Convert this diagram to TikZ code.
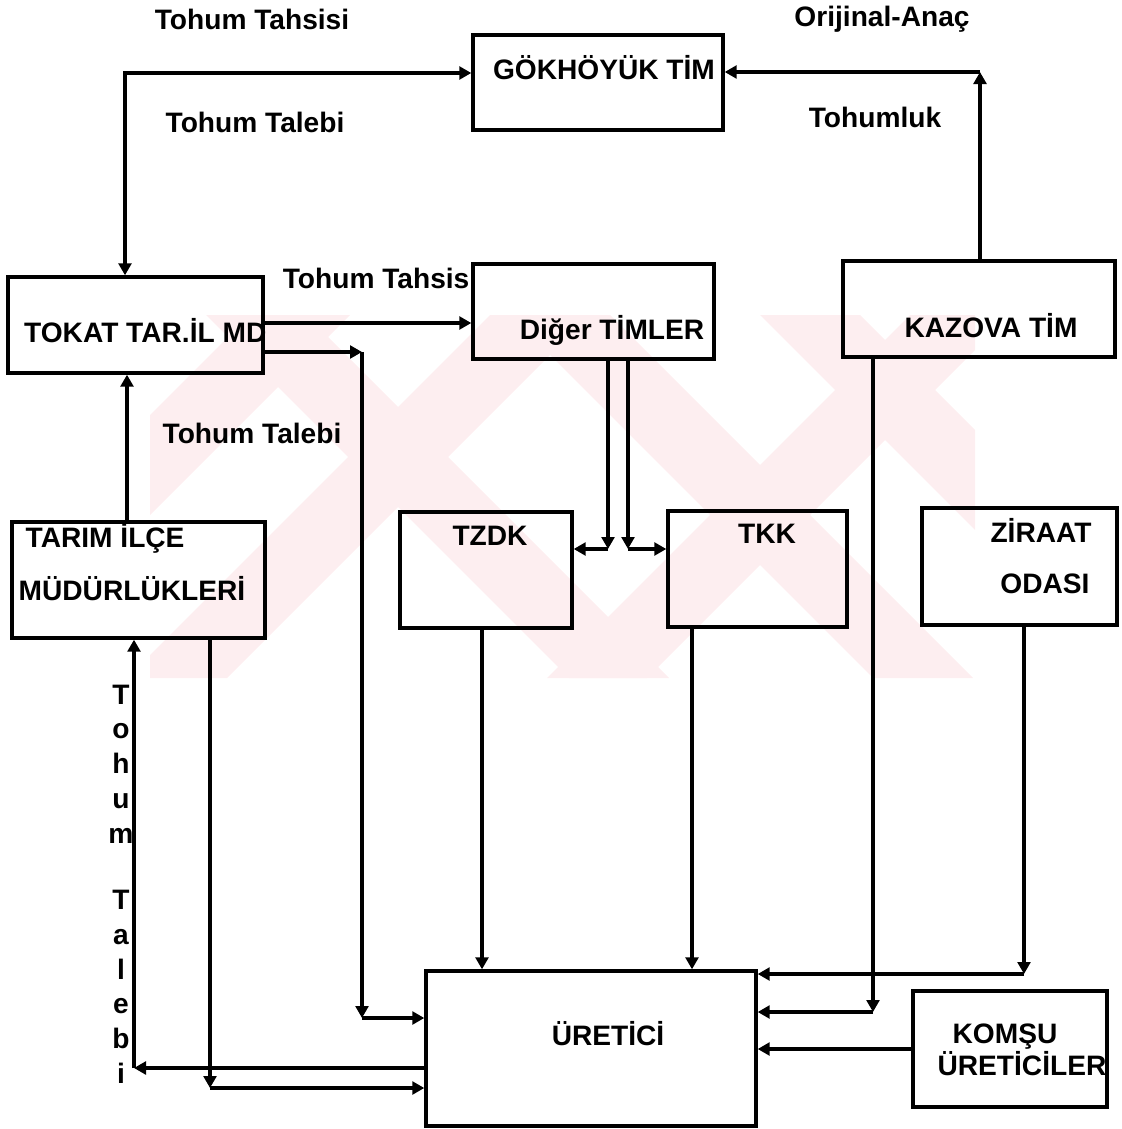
\documentclass[tikz,border=0pt]{standalone}
\usepackage{fontspec}
\setmainfont{Liberation Sans}
\usetikzlibrary{arrows.meta,fit}
\definecolor{filigran}{HTML}{FDEEF0}

\begin{document}
\begin{tikzpicture}[x=0.025cm, y=-0.025cm, line width=2.4pt,
    >={Triangle[length=3mm, width=3.2mm]},
    kutu/.style={draw, rectangle, inner sep=0pt},
    yazi/.style={font=\fontsize{20}{24}\selectfont\bfseries, inner sep=0pt, anchor=base}]
    \useasboundingbox (0,0) rectangle (1122,1129);

    % Filigran
    \begin{scope}
        \clip (150,315) rectangle (975,678);
        \foreach \x in {206,510,760} \fill[filigran] (\x,315) -- ++(100,0) -- ++(363,363) -- ++(-100,0) -- cycle;
        \foreach \x in {250,490,910} \fill[filigran] (\x,315) -- ++(100,0) -- ++(-363,363) -- ++(-100,0) -- cycle;
    \end{scope}

    % Kutular
    \node[kutu, fit={(473,35) (723,130)}] (gok) {};
    \node[kutu, fit={(8,277) (263,373)}] (tokat) {};
    \node[kutu, fit={(473,264) (714,359)}] (diger) {};
    \node[kutu, fit={(843,261) (1115,357)}] (kazova) {};
    \node[kutu, fit={(12,522) (265,638)}] (tarim) {};
    \node[kutu, fit={(400,512) (572,628)}] (tzdk) {};
    \node[kutu, fit={(668,511) (847,627)}] (tkk) {};
    \node[kutu, fit={(922,508) (1117,625)}] (ziraat) {};
    \node[kutu, fit={(426,971) (756,1126)}] (uretici) {};
    \node[kutu, fit={(913,991) (1107,1107)}] (komsu) {};

    % Kutu yazilari
    \node[yazi] (gokyazi) at (604,80) {GÖKHÖYÜK TİM};
    \node[yazi, anchor=base east] (tokatyazi) at (268,342) {TOKAT TAR.İL MD};
    \node[yazi] (digeryazi) at (612,339) {Diğer TİMLER};
    \node[yazi] (kazovayazi) at (991,337) {KAZOVA TİM};
    \node[yazi, anchor=base west] (tarimyazi1) at (24,547) {TARIM İLÇE};
    \node[yazi, anchor=base west] (tarimyazi2) at (17,600) {MÜDÜRLÜKLERİ};
    \node[yazi] (tzdkyazi) at (490,545) {TZDK};
    \node[yazi] (tkkyazi) at (767,543) {TKK};
    \node[yazi] (ziraatyazi1) at (1041,542) {ZİRAAT};
    \node[yazi] (ziraatyazi2) at (1045,593) {ODASI};
    \node[yazi] (ureticiyazi) at (608,1045) {ÜRETİCİ};
    \node[yazi] (komsuyazi1) at (1005,1043) {KOMŞU};
    \node[yazi, anchor=base east] (komsuyazi2) at (1108,1075) {ÜRETİCİLER};

    % Ok etiketleri
    \node[yazi] (etiket1) at (252,30) {Tohum Tahsisi};
    \node[yazi] (etiket2) at (255,133) {Tohum Talebi};
    \node[yazi] (etiket3) at (882,27) {Orijinal-Anaç};
    \node[yazi] (etiket4) at (875,128) {Tohumluk};
    \node[yazi, anchor=base east] (etiket5) at (471,288) {Tohum Tahsis};
    \node[yazi] (etiket6) at (252,443) {Tohum Talebi};
    \node[yazi, anchor=north, align=center, font=\fontsize{20}{24.8}\selectfont\bfseries] (etiket7) at (121,683)
        {T\\o\\h\\u\\m\\[22pt]T\\a\\l\\e\\b\\i};

    % GÖKHÖYÜK TİM baglantilari
    \coordinate (k1) at (125,73);
    \draw[<->] (tokat.north -| k1) -- (k1) -- (k1 -| gok.west);
    \coordinate (k2) at (980,72);
    \draw[->] (kazova.north -| k2) -- (k2);
    \draw[->] (k2) -- (k2 -| gok.east);

    % TOKAT TAR.İL MD cikislari
    \coordinate (k3) at (0,323);
    \draw[->] (tokat.east |- k3) -- (diger.west |- k3);
    \coordinate (k4) at (362,352);
    \coordinate (k5) at (362,1018);
    \draw[->] (tokat.east |- k4) -- (k4);
    \draw[->] (k4) -- (k5);
    \draw[->] (k5) -- (uretici.west |- k5);

    % Tarim ilce -> il mudurlugu
    \coordinate (k6) at (127,0);
    \draw[->] (tarim.north -| k6) -- (tokat.south -| k6);

    % Diger TIMLER -> TZDK, TKK
    \coordinate (k7) at (608,549);
    \coordinate (k8) at (628,549);
    \draw[->] (diger.south -| k7) -- (k7);
    \draw[->] (k7) -- (tzdk.east |- k7);
    \draw[->] (diger.south -| k8) -- (k8);
    \draw[->] (k8) -- (tkk.west |- k8);

    % URETICI girisleri
    \coordinate (k9) at (482,0);
    \draw[->] (tzdk.south -| k9) -- (uretici.north -| k9);
    \coordinate (k10) at (692,0);
    \draw[->] (tkk.south -| k10) -- (uretici.north -| k10);
    \coordinate (k11) at (1024,974);
    \draw[->] (ziraat.south -| k11) -- (k11);
    \draw[->] (k11) -- (uretici.east |- k11);
    \coordinate (k12) at (873,1012);
    \draw[->] (kazova.south -| k12) -- (k12);
    \draw[->] (k12) -- (uretici.east |- k12);
    \draw[->] (komsu.west) -- (uretici.east |- komsu.west);

    % URETICI <-> TARIM ILCE
    \coordinate (k13) at (134,1068);
    \draw[->] (uretici.west |- k13) -- (k13);
    \draw[->] (k13) -- (tarim.south -| k13);
    \coordinate (k14) at (210,1088);
    \draw[->] (tarim.south -| k14) -- (k14);
    \draw[->] (k14) -- (uretici.west |- k14);
\end{tikzpicture}
\end{document}
